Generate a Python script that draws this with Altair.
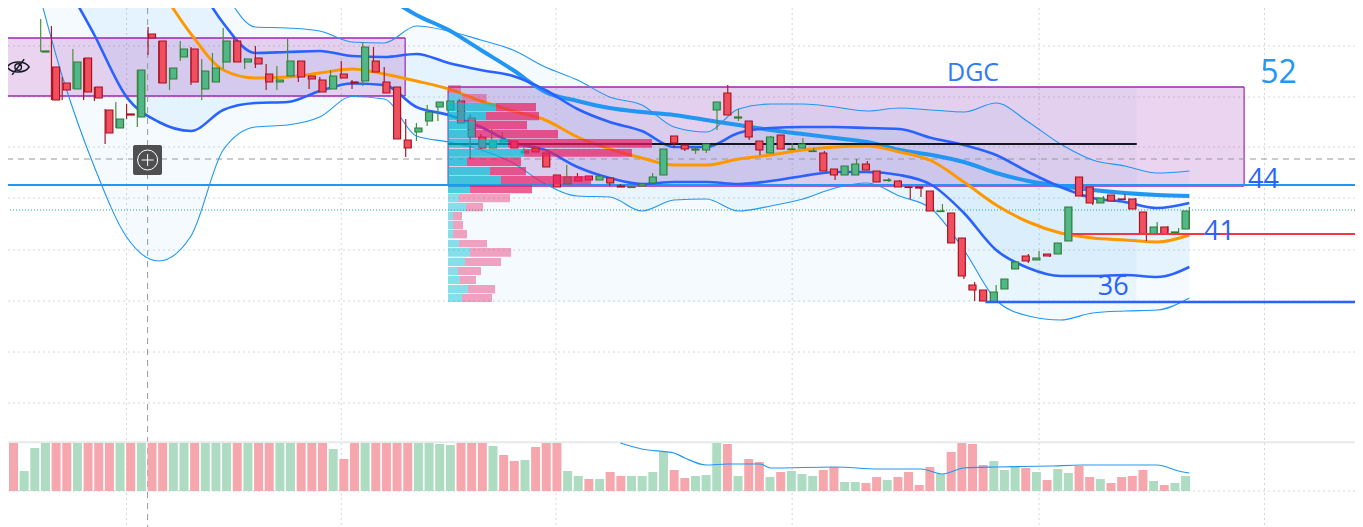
import altair as alt
import pandas as pd

# ---- candles (index, price) ----
wick_high = [64.3,63.6,58.5,61.3,60.4,57.5,55.3,56.0,55.8,59.2,63.5,62.1,59.4,62.1,61.5,60.3,60.9,63.4,62.5,60.4,
             61.6,59.8,59.6,62.3,60.1,58.6,58.5,59.2,60.1,58.2,62.0,61.5,59.5,57.5,54.3,53.9,55.7,56.0,56.1,56.3,
             54.8,52.8,53.3,53.0,52.1,51.4,51.5,50.9,48.7,49.7,48.9,48.6,48.6,48.4,47.8,47.5,47.8,48.9,51.3,52.6,
             51.7,51.5,51.8,56.0,57.7,55.3,54.1,52.1,52.6,52.7,51.9,52.4,51.4,51.1,49.3,49.6,50.3,50.1,49.1,48.4,
             48.2,47.5,47.5,47.1,45.8,44.9,42.4,38.0,37.2,37.7,38.3,40.0,40.8,41.1,40.8,41.9,45.5,48.5,47.5,46.6,
             46.7,46.8,46.4,45.0,44.0,43.6,43.4,45.5]
body_top = [61.1,59.5,57.9,60.0,60.4,57.5,55.2,54.3,54.8,59.2,62.8,62.1,59.4,61.3,61.3,59.1,59.4,62.1,62.1,60.3,
            60.4,58.8,58.2,60.1,60.1,58.6,58.2,58.6,58.8,58.0,61.5,60.1,58.0,57.5,52.2,53.4,55.0,56.0,56.1,56.1,
            54.4,52.5,52.1,52.2,52.1,51.1,51.4,50.9,48.7,48.5,48.5,48.6,48.6,48.4,47.6,47.5,47.8,48.5,51.3,52.6,
            51.7,51.3,51.8,56.0,56.9,54.5,54.1,52.1,52.5,52.7,51.3,51.8,51.1,50.9,49.3,49.6,49.8,49.8,49.1,48.2,
            48.1,47.5,47.5,47.1,45.1,44.9,42.4,37.7,37.2,37.0,38.3,40.0,40.6,40.4,40.8,41.9,45.5,48.5,47.5,46.4,
            46.7,46.3,46.3,45.0,43.5,43.5,43.0,45.1]
body_bot = [61.0,56.2,57.2,57.3,57.0,56.4,52.9,53.4,54.7,54.5,62.4,57.9,58.3,60.5,58.0,57.3,58.0,60.0,60.0,60.0,
            59.8,58.0,58.0,58.6,58.5,58.3,57.0,57.3,58.4,57.9,58.1,59.0,56.9,52.3,51.4,53.0,54.1,55.5,55.2,53.9,
            52.5,51.4,51.4,52.0,51.4,50.9,51.0,49.5,47.5,47.8,48.1,48.2,48.2,47.9,47.5,47.45,47.6,47.9,48.7,51.9,
            51.3,51.2,51.2,55.2,54.7,54.4,52.5,51.2,50.9,51.3,51.25,51.4,51.05,49.1,48.7,48.7,48.7,49.2,48.0,48.15,
            47.5,47.45,47.4,45.1,45.05,41.9,38.6,37.2,36.1,36.0,37.3,39.3,40.1,40.2,40.6,40.8,42.1,46.6,45.9,45.9,
            46.1,46.25,45.3,42.8,42.8,42.8,42.95,43.3]
wick_low = [61.0,56.2,56.2,57.3,56.2,56.1,51.8,53.4,54.3,53.5,60.7,57.9,57.2,60.1,57.7,56.2,58.0,59.3,60.0,59.3,
            59.4,57.2,57.2,58.6,58.0,57.3,57.0,57.3,58.4,57.3,57.6,59.0,56.9,52.3,50.5,52.1,53.6,54.1,55.2,53.9,
            50.3,51.3,51.4,52.0,51.4,50.9,51.0,49.5,47.5,47.8,48.1,48.2,48.2,47.6,47.5,47.45,47.6,47.9,48.7,51.4,
            51.1,50.8,50.9,53.2,54.7,54.1,52.2,50.7,50.9,51.3,51.2,51.4,51.0,49.1,48.2,48.7,48.7,49.2,48.0,48.0,
            47.5,46.3,46.5,45.1,45.0,41.9,38.3,36.1,36.1,36.0,37.3,39.3,39.9,40.2,40.5,40.8,42.1,46.5,45.7,45.9,
            46.1,46.2,45.3,42.1,42.8,42.8,42.8,43.3]
rising_candles = [0,3,7,9,12,13,15,16,17,19,22,23,27,30,35,36,37,38,42,43,45,49,52,55,56,57,58,61,62,63,65,68,70,71,
                  72,75,76,79,84,89,90,91,93,95,96,99,104,106,107]

# ---- moving averages and bands, sampled every third bar ----
band_idx = list(range(-4, 108, 3))
upper_outer = [96.2,91.2,86.2,81.2,78.2,76.2,73.2,67.2,63.5,63.4,63.1,62.0,61.9,63.6,63.1,62.2,61.2,59.5,58.2,56.5,
               55.7,53.5,53.0,55.3,55.8,55.8,55.5,55.1,55.4,55.2,55.0,55.9,54.0,51.8,50.2,49.6,48.9,49.1]
upper_inner = [81.2,81.2,81.2,81.2,76.2,76.2,69.2,63.9,60.9,61.0,61.1,60.6,60.5,60.8,59.9,59.2,58.6,57.2,55.3,54.0,
               53.1,51.5,51.5,52.9,53.4,53.5,53.5,53.4,53.3,52.4,51.7,50.7,49.0,47.5,46.4,46.0,45.4,45.9]
lower_inner = [81.2,76.2,68.7,62.7,56.5,54.0,53.1,55.2,55.9,56.0,57.1,57.85,57.7,55.5,54.7,53.5,51.9,51.2,49.5,48.4,
               47.8,48.0,48.0,47.8,48.1,48.6,49.0,49.0,48.7,47.7,44.9,41.2,39.4,38.6,38.6,38.7,38.5,39.5]
lower_outer = [81.2,70.2,58.6,49.5,42.5,40.1,42.6,51.2,53.5,53.7,54.5,56.55,56.3,52.6,52.0,51.2,49.9,47.8,46.6,46.5,
               45.1,46.2,46.3,45.1,45.6,46.3,47.4,47.9,46.6,45.3,41.2,36.2,34.6,34.2,34.9,35.1,35.2,36.4]
orange_ma = [91.2,86.2,81.2,76.2,71.2,67.4,62.8,59.2,58.4,58.5,58.9,59.3,58.8,58.1,57.3,56.1,55.1,54.2,52.5,51.3,
             50.4,49.7,49.7,50.3,50.7,51.2,51.5,51.6,51.0,50.1,48.0,45.7,44.0,42.9,42.4,42.2,42.0,42.7]
slow_ma = [None]*12 + [66.7,64.7,63.2,61.2,59.2,57.0,56.1,55.4,55.0,54.7,54.2,53.7,53.2,52.8,52.4,52.0,51.2,50.7,50.0,
                       48.9,48.1,47.6,47.2,46.9,46.7,46.6]

# ---- volume pane ----
vol_idx = list(range(-3, 108))
volumes = [48,20,43,48,48,48,48,48,48,48,
           48,48,48,48,48,48,48,48,48,48,
           48,48,48,48,48,48,48,48,48,48,
           42,32,48,48,48,48,48,48,48,48,
           47,46,48,48,48,45,36,30,31,44,
           48,48,20,15,12,12,19,15,15,15,
           19,39,21,13,15,16,48,47,15,32,
           29,14,19,20,17,15,21,24,9,9,
           8,14,11,14,19,6,24,17,39,48,
           47,26,30,21,25,23,19,11,22,18,
           25,14,12,8,14,15,21,10,6,8,15]
vol_colors = list("rgggrrgrrr" "grgrrggrgg" "grgrrggrrr" "grrgrrrrgg" "ggrrrgrrgr"
                  "rrggrgrrgg" "ggrrgggrgr" "rgrgggrrgg" "rrgrrrrgrr" "rrgggrgrgg" "rrgrrrrgrgg")
vol_ma_idx = [54,56,59,60,62,64,67,68,74,78,82,84,86,89,94,97,104,106,107]
vol_ma = [48,42,38,33,26,27,27,23,24,22,22,17,23,24,25,26,26,20,18]

# ---- volume profile rows ----
row_top = [57.7,56.8,55.9,55.0,54.1,53.2,52.3,51.3,50.47,49.5,48.6,47.67,46.8,45.9,45.0,44.1,43.2,42.2,41.4,40.4,39.5,38.6,37.7,36.8]
row_bot = [56.83,55.93,55.07,54.17,53.27,52.37,51.43,50.53,49.6,48.67,47.77,46.87,45.97,45.07,44.17,43.27,42.37,41.47,40.53,39.6,38.7,37.8,36.87,36.0]
row_up = [0,13.7,48,38,27,27,60,76,19,42,53,22,11,18,5,5,5,11,22,17,10,12,20,14]
row_down = [13,25,40,53,52,83,144,108,54,36,90,62,51,17,9,10,14,28,41,36,23,16,27,30]
value_area = [False,False]+[True]*10+[False]*12

# ---- levels ----
grid_prices = [61.6,56.5,51.5,46.4,41.2,36.1,31.0,25.9,17.1]
grid_bars = [8,28,48,70,93,114]
labels = ["DGC","52","44","41","36"]
label_x = [86.85,115.3,113.9,109.8,99.9]
label_y = [58.9,58.9,48.2,43.0,37.5]
label_size = [25,32,27,27,27]
label_color = ["#2f7bf5","#2196f3","#2962ff","#2962ff","#2962ff"]

X0, X1 = -3.046, 122.43
Y0, Y1 = 13.5, 65.4
xs = alt.Scale(domain=[X0, X1])
ys = alt.Scale(domain=[Y0, Y1])
vs = alt.Scale(domain=[0, 48], range=[483, 435])
ps = alt.Scale(domain=[0, 100], range=[440, 540])

def X(f): return alt.X(f, type="quantitative", scale=xs, axis=None)
def Y(f): return alt.Y(f, type="quantitative", scale=ys, axis=None)

candles = pd.DataFrame({"i": range(len(wick_high)), "hi": wick_high, "top": body_top, "bot": body_bot, "lo": wick_low})
candles["up"] = candles["i"].isin(rising_candles)
rise = candles[candles.up]
fall = candles[~candles.up]

bands = pd.DataFrame({"i": band_idx, "a": upper_outer, "b": upper_inner, "c": lower_inner, "d": lower_outer,
                      "e": orange_ma, "f": slow_ma})
vol = pd.DataFrame({"i": vol_idx, "v": volumes, "c": vol_colors})
volma = pd.DataFrame({"i": vol_ma_idx, "v": vol_ma})
prof = pd.DataFrame({"t": row_top, "b": row_bot, "u": row_up, "d": row_down, "va": value_area})
prof["tot"] = prof.u + prof.d
prof["zero"] = 0
layers = []

# gridlines
layers.append(alt.Chart(pd.DataFrame({"p": grid_prices})).mark_rule(color="#d4d6da", strokeDash=[2, 3], strokeWidth=1)
              .encode(y=Y("p")))
layers.append(alt.Chart(pd.DataFrame({"i": grid_bars})).mark_rule(color="#d4d6da", strokeDash=[2, 3], strokeWidth=1)
              .encode(x=X("i")))

# band fills
layers.append(alt.Chart(bands).mark_area(color="#2196f3", opacity=0.05, interpolate="monotone", clip=True)
              .encode(x=X("i"), y=Y("a"), y2="d"))
layers.append(alt.Chart(bands).mark_area(color="#2196f3", opacity=0.07, interpolate="monotone", clip=True)
              .encode(x=X("i"), y=Y("b"), y2="c"))

# volume profile background
bg = pd.DataFrame({"x": [37.95], "x2": [102.1], "y": [57.5], "y2": [36.0]})
layers.append(alt.Chart(bg).mark_rect(color="#2196f3", opacity=0.05).encode(x=X("x"), x2="x2", y=Y("y"), y2="y2"))

# purple boxes
boxes = pd.DataFrame({"x": [X0, 37.95], "x2": [33.95, 112.1], "y": [62.4, 57.5], "y2": [56.6, 47.6]})
layers.append(alt.Chart(boxes).mark_rect(color="#9c27b0", opacity=0.2).encode(x=X("x"), x2="x2", y=Y("y"), y2="y2"))
for c in ("y", "y2"):
    layers.append(alt.Chart(boxes).mark_rule(color="#9c27b0", strokeWidth=1.6)
                  .encode(x=X("x"), x2="x2", y=Y(c)))
layers.append(alt.Chart(boxes).mark_rule(color="#9c27b0", strokeWidth=1.2)
              .encode(x=X("x2"), y=Y("y"), y2="y2"))
layers.append(alt.Chart(boxes.iloc[[1]]).mark_rule(color="#9c27b0", strokeWidth=1.2)
              .encode(x=X("x"), y=Y("y"), y2="y2"))

# horizontal levels
lv = pd.DataFrame({"p": [50.3]})
layers.append(alt.Chart(lv).mark_rule(color="#9598a1", strokeDash=[6, 5], strokeWidth=1).encode(y=Y("p")))
layers.append(alt.Chart(pd.DataFrame({"i": [9.96]})).mark_rule(color="#9598a1", strokeDash=[6, 5], strokeWidth=1)
              .encode(x=X("i")))
layers.append(alt.Chart(pd.DataFrame({"p": [45.2]})).mark_rule(color="#22ab94", strokeDash=[1, 2], strokeWidth=1)
              .encode(y=Y("p")))
layers.append(alt.Chart(pd.DataFrame({"p": [47.7]})).mark_rule(color="#2196f3", strokeWidth=2).encode(y=Y("p")))

# MAs and bands
layers.append(alt.Chart(bands).mark_line(color="#2196f3", strokeWidth=1.1, interpolate="monotone", clip=True)
              .encode(x=X("i"), y=Y("a")))
layers.append(alt.Chart(bands).mark_line(color="#2196f3", strokeWidth=1.1, interpolate="monotone", clip=True)
              .encode(x=X("i"), y=Y("d")))
layers.append(alt.Chart(bands.dropna(subset=["f"])).mark_line(color="#2196f3", strokeWidth=4, interpolate="monotone", clip=True)
              .encode(x=X("i"), y=Y("f")))
layers.append(alt.Chart(bands).mark_line(color="#2962ff", strokeWidth=2.6, interpolate="monotone", clip=True)
              .encode(x=X("i"), y=Y("b")))
layers.append(alt.Chart(bands).mark_line(color="#2962ff", strokeWidth=2.6, interpolate="monotone", clip=True)
              .encode(x=X("i"), y=Y("c")))
layers.append(alt.Chart(bands).mark_line(color="#ff9800", strokeWidth=3, interpolate="monotone", clip=True)
              .encode(x=X("i"), y=Y("e")))

# black level
segs = pd.DataFrame({"x": [37.95], "x2": [102.1], "p": [51.8]})
layers.append(alt.Chart(segs).mark_rule(color="#131722", strokeWidth=2).encode(x=X("x"), x2="x2", y=Y("p")))

# candles
for df, fill, edge, wick in ((rise, "#52b788", "#2e7d32", "#4d8c3d"), (fall, "#ef5060", "#ad0f1f", "#a81a28")):
    layers.append(alt.Chart(df).mark_rule(color=wick, strokeWidth=1.2).encode(x=X("i"), y=Y("hi"), y2="lo"))
    layers.append(alt.Chart(df).mark_bar(size=7, color=fill, stroke=edge, strokeWidth=1.2)
                  .encode(x=X("i"), y=Y("top"), y2="bot"))

segs2 = pd.DataFrame({"x": [96, 88], "x2": [X1, X1], "p": [42.8, 36.0]})
layers.append(alt.Chart(segs2.iloc[[0]]).mark_rule(color="#f23645", strokeWidth=2).encode(x=X("x"), x2="x2", y=Y("p")))
layers.append(alt.Chart(segs2.iloc[[1]]).mark_rule(color="#2962ff", strokeWidth=2.6).encode(x=X("x"), x2="x2", y=Y("p")))

# volume profile
PX = lambda f: alt.X(f, type="quantitative", scale=ps, axis=None)
for flag, a_up, a_dn in ((True, 0.7, 0.7), (False, 0.45, 0.4)):
    sub = prof[prof.va == flag]
    layers.append(alt.Chart(sub).mark_rect(color="#00bcd4", opacity=a_up)
                  .encode(x=PX("zero"), x2="u", y=Y("t"), y2="b"))
    layers.append(alt.Chart(sub).mark_rect(color="#e91e63", opacity=a_dn)
                  .encode(x=PX("u"), x2="tot", y=Y("t"), y2="b"))

# volume pane
VY = lambda f: alt.Y(f, type="quantitative", scale=vs, axis=None)
layers.append(alt.Chart(pd.DataFrame({"v": [48.7]})).mark_rule(color="#e8e9eb", strokeWidth=2).encode(y=VY("v")))
for code, col in (("r", "#f6a7ae"), ("g", "#addcc3")):
    layers.append(alt.Chart(vol[vol.c == code]).mark_bar(size=9, color=col).encode(x=X("i"), y=VY("v")))
layers.append(alt.Chart(volma).mark_line(color="#2196f3", strokeWidth=1.2, interpolate="monotone")
              .encode(x=X("i"), y=VY("v")))

# hidden-eye icon
eye = "M-1,0C-.6,-.6 .6,-.6 1,0C.6,.6 -.6,.6 -1,0ZM-.3,0A.3,.3 0 1 1 .3,0A.3,.3 0 1 1 -.3,0ZM.55,-.7L-.55,.7"
layers.append(alt.Chart(pd.DataFrame({"i": [-2.1], "p": [59.5]})).mark_point(
    shape=eye, size=484, filled=False, color="#131722", strokeWidth=1.4, opacity=1).encode(x=X("i"), y=Y("p")))

# crosshair plus button
btn = pd.DataFrame({"x": [8.6], "x2": [11.3], "y": [51.7], "y2": [48.7]})
layers.append(alt.Chart(btn).mark_rect(color="#4f4f52", cornerRadius=2).encode(x=X("x"), x2="x2", y=Y("y"), y2="y2"))
cp = pd.DataFrame({"i": [9.96], "p": [50.2]})
layers.append(alt.Chart(cp).mark_point(shape="circle", size=400, filled=False, color="#ffffff", strokeWidth=1, opacity=1)
              .encode(x=X("i"), y=Y("p")))
layers.append(alt.Chart(cp).mark_point(shape="M-1,0L1,0M0,-1L0,1", size=144, filled=False, color="#ffffff", strokeWidth=1, opacity=1)
              .encode(x=X("i"), y=Y("p")))

# text labels
for t, lx, ly, sz, col in zip(labels, label_x, label_y, label_size, label_color):
    layers.append(alt.Chart(pd.DataFrame({"i": [lx], "p": [ly], "t": [t]})).mark_text(
        font="Open Sans", fontSize=sz, color=col, align="center", baseline="middle")
        .encode(x=X("i"), y=Y("p"), text="t"))

chart = alt.layer(*layers).properties(width=1347, height=519, padding=0, autosize="none") \
    .resolve_scale(x="independent", y="independent").configure_view(stroke=None)
chart.save("out.html", embed_options={"renderer": "svg", "actions": False})
